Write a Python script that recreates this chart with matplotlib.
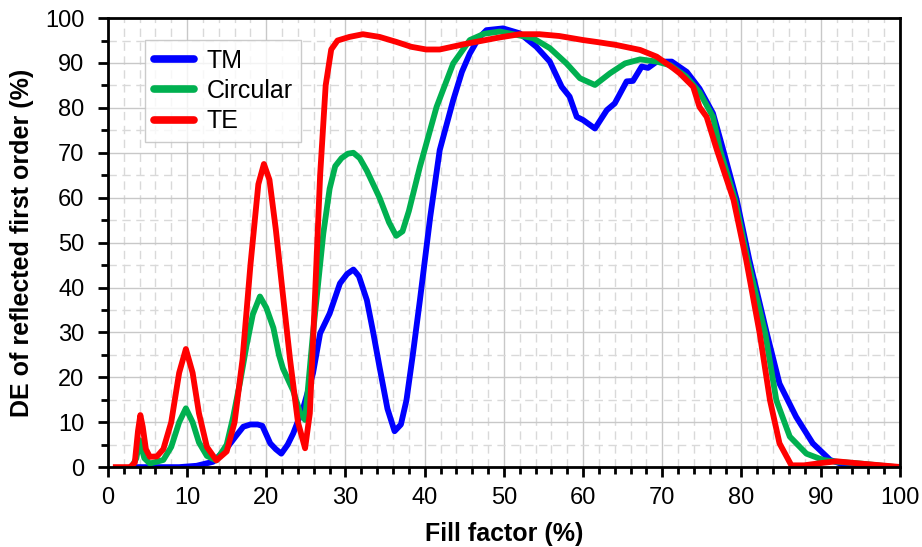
import numpy as np
import matplotlib.pyplot as plt
from matplotlib.ticker import MultipleLocator

plt.rcParams['font.family'] = ['Liberation Sans', 'DejaVu Sans']

# diffraction efficiency of the reflected first order vs fill factor
tm_x = [3, 6, 9, 11.2, 13.3, 15, 16.2, 17.1, 18, 18.9, 19.5, 20.5, 21.2, 21.9, 22.7,
        23.4, 24.7, 25.9, 26.8, 28, 29.3, 30.2, 31, 31.7, 32.7, 33.5, 34.3, 35.3, 36.2,
        37, 37.7, 38.5, 39.4, 40.7, 41.9, 43.6, 44.7, 45.7, 46.8, 47.8, 49.9, 52, 54.1,
        55.8, 57.3, 58.3, 59.2, 60, 61.5, 63, 64, 65.5, 66.3, 67.4, 68.2, 69.3, 71.2,
        73.1, 74.7, 76.4, 77.7, 79.4, 81, 83.2, 84.8, 86.9, 89, 91.2, 93.3, 95, 99]
tm_y = [0, 0, 0, 0.3, 1.2, 4.2, 7, 9, 9.5, 9.5, 9.2, 5.3, 4, 3, 5,
        7.5, 13.4, 20.9, 29.8, 34.2, 40.9, 43, 44, 42.5, 37.2, 30, 22.3, 13, 8,
        9.5, 14.9, 25, 37.2, 55.7, 70.6, 81.7, 88, 92.1, 95.5, 97.3, 97.7, 96.6, 93.6,
        90.3, 84.7, 82.5, 78, 77.3, 75.4, 79.5, 81, 85.9, 86, 89.2, 88.9, 90.3, 90.3,
        88, 84.3, 78.8, 70.6, 59.5, 46.1, 29.8, 18.6, 11.2, 5.3, 1.6, 0.3, 0, 0]

circ_x = [3, 3.6, 4, 4.6, 5.3, 7, 8, 9, 9.85, 10.7, 11.5, 12.5, 13.7, 15, 15.8,
          16.7, 17.5, 18.3, 19.2, 20, 20.9, 21.6, 22.1, 23.4, 24.3, 24.9, 25.9, 27.2,
          28, 28.7, 29.5, 30.3, 31, 31.8, 32.7, 34.3, 35.5, 36.4, 37.2, 38, 39.4, 41.5,
          43.6, 45.7, 47.5, 49.5, 53.7, 55.8, 57.9, 59.6, 61.5, 63.4, 65.3, 67.2, 69.3,
          71, 73, 74.7, 76.4, 77.3, 79.2, 80.8, 83, 84.4, 86.1, 88.2, 90.3, 92, 95, 99]
circ_y = [0, 2, 6, 2, 0.8, 1.6, 4.5, 10, 13.1, 10, 5.5, 2.5, 1.5, 5, 11,
          19, 27, 34, 38, 35.5, 31, 25, 22, 17, 12, 10.5, 29.8, 52,
          62, 67, 68.8, 69.8, 70, 68.8, 66, 60, 54.5, 51.5, 52.5, 57, 66.9, 80.2,
          89.9, 95.1, 96.5, 97, 95.5, 93.3, 89.9, 86.6, 85.1, 87.7, 89.9, 90.8, 90.3,
          89.5, 87, 83.5, 78, 70.6, 59.5, 46, 29.8, 14.9, 6.8, 3, 1.6, 1.2, 0.8, 0.1]

te_x = [1, 2.8, 3.4, 3.8, 4.1, 4.4, 4.8, 5.3, 6.2, 7, 8, 9, 9.85, 10.7, 11.5,
        12.5, 13.7, 15, 16, 17, 18, 19, 19.7, 20.4, 21.2, 22, 23, 24, 24.9, 25.5,
        26.2, 26.8, 27.5, 28.2, 29, 30.5, 32.2, 34.3, 36.4, 38.3, 40.2, 41.9, 45.3,
        49.5, 52, 54.5, 57, 60, 62, 64.2, 67.2, 69.3, 71.4, 72.2, 73.9, 74.7, 75.6,
        76.9, 79, 80.6, 82.3, 83.6, 84.8, 86.3, 87.9, 90, 92, 95, 99.6]
te_y = [0, 0, 1, 8, 11.6, 9, 4, 2.3, 2.4, 4, 10, 21, 26.3, 21, 12,
        4.5, 1.5, 3.5, 10, 24, 45, 63, 67.5, 64, 53, 40, 24, 10, 4.2, 12,
        40, 65, 85, 93, 95, 95.8, 96.4, 95.8, 94.7, 93.6, 93, 93, 94.3,
        95.7, 96.4, 96.4, 96, 95.1, 94.6, 94, 92.9, 91.4, 88.8, 87.7, 84.7, 80.2, 78,
        70.6, 59.5, 46.1, 29.8, 14.9, 5.3, 0.4, 0.4, 0.9, 1.3, 0.8, 0.1]

fig = plt.figure(figsize=(9.22, 5.47), dpi=100)
ax = fig.add_axes([0.117, 0.146, 0.859, 0.821])

lw = 4.2
ax.plot(tm_x, tm_y, color='#0000FF', lw=lw, label='TM', solid_joinstyle='round')
ax.plot(circ_x, circ_y, color='#00B050', lw=lw, label='Circular', solid_joinstyle='round')
ax.plot(te_x, te_y, color='#FF0000', lw=lw, label='TE', solid_joinstyle='round')

ax.set_xlim(0, 100)
ax.set_ylim(0, 100)
ax.xaxis.set_major_locator(MultipleLocator(10))
ax.xaxis.set_minor_locator(MultipleLocator(2))
ax.yaxis.set_major_locator(MultipleLocator(10))
ax.yaxis.set_minor_locator(MultipleLocator(5))

ax.grid(which='major', color='#c8c8c8', lw=1.0, ls='-')
ax.grid(which='minor', color='#d9d9d9', lw=1.0, ls=(0, (6, 4)))
ax.set_axisbelow(True)

for s in ax.spines.values():
    s.set_linewidth(2)
ax.tick_params(which='major', direction='out', length=7, width=2, labelsize=17)
ax.tick_params(which='minor', direction='out', length=5, width=2)
ax.tick_params(axis='x', which='major', pad=7)
ax.tick_params(axis='y', which='major', pad=10)

ax.set_xlabel('Fill factor (%)', fontsize=18, fontweight='bold', labelpad=10)
ax.set_ylabel('DE of reflected first order (%)', fontsize=18, fontweight='bold', labelpad=8)

leg = ax.legend(loc='upper left', bbox_to_anchor=(0.047, 0.951), fontsize=18,
                frameon=True, fancybox=False, handlelength=1.6, borderpad=0.35,
                labelspacing=0.25, handletextpad=0.5, borderaxespad=0)
leg.get_frame().set_edgecolor('#bfbfbf')
leg.get_frame().set_linewidth(1.0)
for h in leg.get_lines():
    h.set_linewidth(5.5)
    h.set_solid_capstyle('round')

fig.savefig('out.png', dpi=100)
